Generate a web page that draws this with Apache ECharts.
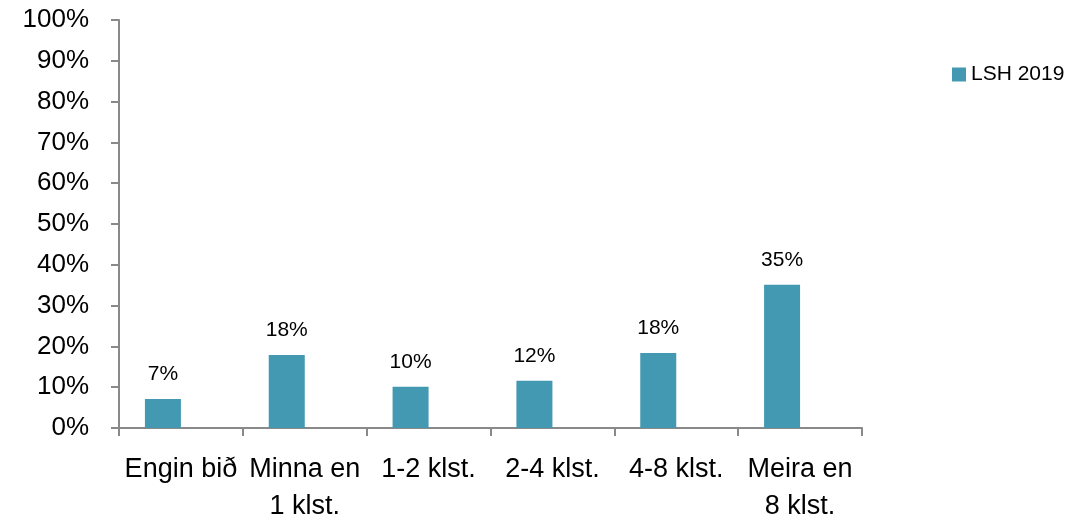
<!DOCTYPE html>
<html>
<head>
<meta charset="utf-8">
<script src="https://cdn.jsdelivr.net/npm/echarts@6/dist/echarts.min.js"></script>
<style>html,body{margin:0;padding:0;background:#fff}#c{width:1077px;height:523px}</style>
</head>
<body>
<div id="c"></div>
<script>
var categories = ['Engin bið', 'Minna en\n1 klst.', '1-2 klst.', '2-4 klst.', '4-8 klst.', 'Meira en\n8 klst.'];
var seriesName = 'LSH 2019';
var values = [7.1, 17.9, 10.1, 11.6, 18.4, 35.1];
var valueLabels = ['7%', '18%', '10%', '12%', '18%', '35%'];
var FONT = "'Liberation Sans', 'DejaVu Sans', sans-serif";
var chart = echarts.init(document.getElementById('c'));
chart.setOption({
  animation: false,
  backgroundColor: '#fff',
  textStyle: { fontFamily: FONT },
  grid: { left: 119, right: 215, top: 20, bottom: 95, containLabel: false, outerBoundsMode: 'none' },
  legend: {
    data: [seriesName],
    left: 947, top: 59,
    icon: 'rect', itemWidth: 14, itemHeight: 14, itemGap: 4,
    textStyle: { fontFamily: FONT, fontSize: 21, color: '#000', padding: [0, 0, 0, 0] }
  },
  xAxis: {
    type: 'category',
    data: categories,
    boundaryGap: true,
    axisLine: { lineStyle: { color: '#898989', width: 2 } },
    axisTick: { show: true, length: 8, lineStyle: { color: '#898989', width: 2 }, alignWithLabel: false },
    axisLabel: { interval: 0, color: '#000', fontSize: 27, fontFamily: FONT, lineHeight: 37, margin: 23 }
  },
  yAxis: {
    type: 'value',
    min: 0, max: 100, interval: 10,
    splitLine: { show: false },
    axisLine: { show: true, lineStyle: { color: '#898989', width: 2 } },
    axisTick: { show: true, length: 8, lineStyle: { color: '#898989', width: 2 } },
    axisLabel: { color: '#000', fontSize: 26, fontFamily: FONT, margin: 30, formatter: '{value}%' }
  },
  series: [{
    name: seriesName,
    type: 'bar',
    data: values,
    barWidth: 36,
    barGap: '0%',
    itemStyle: { color: '#4299B1' },
    label: {
      show: true, position: 'top', distance: 14,
      color: '#000', fontSize: 21, fontFamily: FONT,
      formatter: function (p) { return valueLabels[p.dataIndex]; }
    }
  }, {
    name: 'empty',
    type: 'bar',
    data: [],
    barWidth: 36,
    barGap: '0%',
    itemStyle: { color: '#A5A5A5' }
  }]
});
</script>
</body>
</html>
